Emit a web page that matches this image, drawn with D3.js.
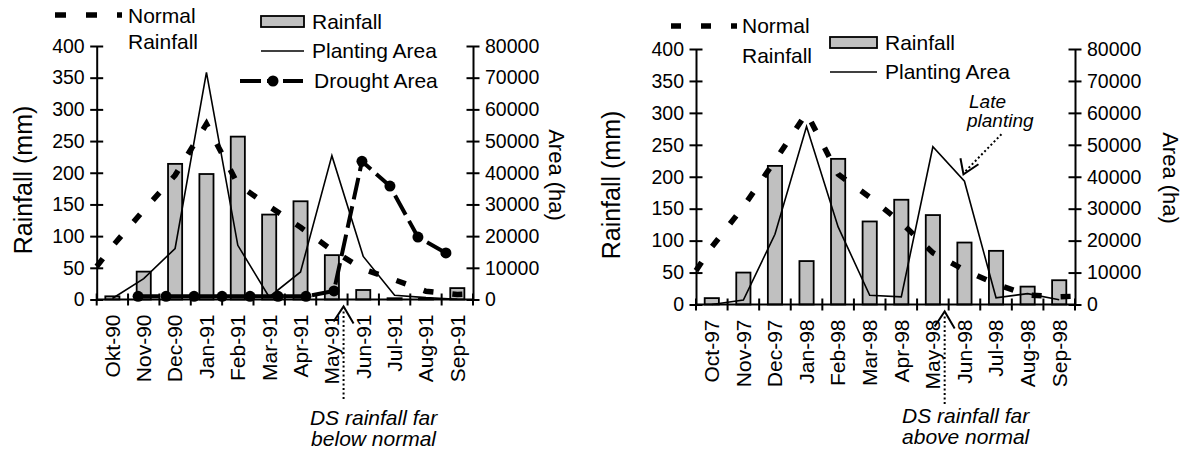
<!DOCTYPE html>
<html>
<head>
<meta charset="utf-8">
<script src="https://cdn.jsdelivr.net/npm/d3@7"></script>
<style>
  html, body { margin: 0; padding: 0; background: #fff; }
  svg text { font-family: "Liberation Sans", Arial, sans-serif; fill: #000; }
</style>
</head>
<body>
<svg id="chart" width="1192" height="450"></svg>
<script>
// ---------------- DATA ----------------
const months1 = ["Okt-90","Nov-90","Dec-90","Jan-91","Feb-91","Mar-91","Apr-91","May-91","Jun-91","Jul-91","Aug-91","Sep-91"];
const rain1 = [5, 44, 214, 198, 257, 134, 155, 70, 15, 2, 1, 18];
const normal1 = [84, 141, 196, 277, 182, 147, 114, 78, 48, 31, 13, 8];
const normalEdges1 = [52, 9];          // normal rainfall where the curve meets the two axes
const planting1 = [300, 6600, 16100, 71700, 17100, 800, 8700, 45400, 13600, 1350, 600, 100];
const drought1 = [1000, 1000, 1000, 1000, 1000, 1000, 1000, 2700, 43600, 35800, 19700, 14700];

const months2 = ["Oct-97","Nov-97","Dec-97","Jan-98","Feb-98","Mar-98","Apr-98","May-98","Jun-98","Jul-98","Aug-98","Sep-98"];
const rain2 = [10, 50, 217, 68, 228, 130, 164, 140, 97, 84, 28, 38];
const normal2 = [90, 153, 225, 300, 204, 168, 128, 81, 54, 32, 15, 12];
const normalEdges2 = [53, 13];
const planting2 = [0, 1400, 22000, 55700, 24300, 2900, 2400, 49400, 38600, 2100, 3400, 1500];

const rainTicks = [0, 50, 100, 150, 200, 250, 300, 350, 400];
const areaTicks = [0, 10000, 20000, 30000, 40000, 50000, 60000, 70000, 80000];

// ---------------- DRAWING ----------------
const svg = d3.select("#chart");
const FS = 21;
const TICKFS = 19.5;
const GRAY = "#c0c0c0";

function panel(cfg) {
  const g = svg.append("g");
  const { x0, x1, yTop, yBottom, months } = cfg;
  const w = x1 - x0;
  const x = d3.scaleBand().domain(months).range([x0, x1]).paddingInner(0.55).paddingOuter(0.275);
  const xi = d3.scaleLinear().domain([0, months.length]).range([x0, x1]);
  const xc = m => x(m) + x.bandwidth() / 2;
  const yR = d3.scaleLinear().domain([0, 400]).range([yBottom, yTop]);
  const yA = d3.scaleLinear().domain([0, 80000]).range([yBottom, yTop]);

  // bars
  g.append("g").selectAll("rect").data(cfg.rain).join("rect")
    .attr("x", (d, i) => x(months[i]))
    .attr("y", d => yR(d))
    .attr("width", x.bandwidth())
    .attr("height", d => yR(0) - yR(d))
    .attr("fill", GRAY).attr("stroke", "#000").attr("stroke-width", 1.8);

  // normal rainfall (thick dashed)
  const normPts = [[x0, cfg.normalEdges[0]]]
    .concat(cfg.normal.map((v, i) => [xc(months[i]), v]))
    .concat([[x1, cfg.normalEdges[1]]]);
  g.append("path").datum(normPts)
    .attr("d", d3.line().x(d => d[0]).y(d => yR(d[1])))
    .attr("fill", "none").attr("stroke", "#000").attr("stroke-width", 5.5)
    .attr("stroke-dasharray", "10,19").attr("stroke-linecap", "butt");

  // planting area
  g.append("path").datum(cfg.planting)
    .attr("d", d3.line().x((d, i) => xc(months[i])).y(d => yA(d)))
    .attr("fill", "none").attr("stroke", "#000").attr("stroke-width", 1.6);

  // drought area
  if (cfg.drought) {
    const xd = d3.scalePoint().domain(months).range([x0 + 0.11 * w, x0 + 0.928 * w]);
    g.append("path").datum(cfg.drought)
      .attr("d", d3.line().x((d, i) => xd(months[i])).y(d => yA(d)))
      .attr("fill", "none").attr("stroke", "#000").attr("stroke-width", 4)
      .attr("stroke-dasharray", "22,7");
    g.append("g").selectAll("circle").data(cfg.drought).join("circle")
      .attr("cx", (d, i) => xd(months[i])).attr("cy", d => yA(d)).attr("r", 5.5).attr("fill", "#000");
  }

  // left axis
  const axL = g.append("g").attr("transform", `translate(${x0},0)`)
    .call(d3.axisLeft(yR).tickValues(rainTicks).tickFormat(d3.format("d"))
      .tickSize(6).tickSizeOuter(0).tickPadding(6));
  // right axis
  const axR = g.append("g").attr("transform", `translate(${x1},0)`)
    .call(d3.axisRight(yA).tickValues(areaTicks).tickFormat(d3.format("d"))
      .tickSize(6).tickSizeOuter(0).tickPadding(6));
  [axL, axR].forEach(a => {
    a.select(".domain").attr("stroke-width", 2);
    a.selectAll(".tick line").attr("x1", -6.5).attr("x2", 6.5).attr("stroke-width", 2);
    a.selectAll("text").attr("font-size", TICKFS).attr("font-family", "Liberation Sans, Arial, sans-serif");
  });

  // bottom axis
  g.append("line").attr("x1", x0).attr("x2", x1).attr("y1", yBottom).attr("y2", yBottom)
    .attr("stroke", "#000").attr("stroke-width", 2);
  g.append("g").selectAll("line").data(d3.range(months.length + 1)).join("line")
    .attr("x1", d => xi(d)).attr("x2", d => xi(d))
    .attr("y1", yBottom - 6).attr("y2", yBottom + 6)
    .attr("stroke", "#000").attr("stroke-width", 2);
  g.append("g").selectAll("text").data(months).join("text")
    .attr("transform", m => `translate(${xc(m)},${yBottom + 15}) rotate(-90)`)
    .attr("text-anchor", "end").attr("dy", "0.35em").attr("font-size", FS)
    .text(m => m);

  // axis titles
  g.append("text")
    .attr("transform", `translate(${cfg.titleLx},${cfg.titleLy}) rotate(-90)`)
    .attr("text-anchor", "middle").attr("dy", "0.35em").attr("font-size", 25).text("Rainfall (mm)");
  g.append("text")
    .attr("transform", `translate(${cfg.titleRx},${cfg.titleRy}) rotate(90)`)
    .attr("text-anchor", "middle").attr("dy", "0.35em").attr("font-size", 22).text("Area (ha)");

  // DS annotation (dotted arrow under the axis)
  const xa = xi(8) - 4;
  g.append("line").attr("x1", xa).attr("x2", xa).attr("y1", yBottom + 12).attr("y2", yBottom + 100)
    .attr("stroke", "#000").attr("stroke-width", 2).attr("stroke-dasharray", "2,2.5");
  g.append("path")
    .attr("d", `M${xa - 10},${yBottom + 22}L${xa},${yBottom + 7}L${xa + 10},${yBottom + 24}`)
    .attr("fill", "none").attr("stroke", "#000").attr("stroke-width", 2);
  const ann = g.append("text").attr("font-size", FS).attr("font-style", "italic").attr("text-anchor", "middle");
  ann.append("tspan").attr("x", xa + cfg.annDx).attr("y", cfg.annY).text("DS rainfall far");
  ann.append("tspan").attr("x", xa + cfg.annDx).attr("y", cfg.annY + 21).text(cfg.annText);

  return { g, x, xc, yR, yA };
}

// ---------- left panel ----------
const P1 = panel({
  x0: 96.7, x1: 473, yTop: 46, yBottom: 299.5, months: months1,
  rain: rain1, normal: normal1, normalEdges: normalEdges1, planting: planting1, drought: drought1,
  titleLx: 23, titleLy: 180, titleRx: 557, titleRy: 175, annDx: 30, annY: 425, annText: "below normal"
});
// legend left
{
  const g = P1.g;
  g.append("line").attr("x1", 55).attr("x2", 122).attr("y1", 15).attr("y2", 15)
    .attr("stroke", "#000").attr("stroke-width", 5.5).attr("stroke-dasharray", "11,20");
  g.append("text").attr("x", 128).attr("y", 23).attr("font-size", FS).text("Normal");
  g.append("text").attr("x", 128).attr("y", 49).attr("font-size", FS).text("Rainfall");
  g.append("rect").attr("x", 261).attr("y", 16).attr("width", 43).attr("height", 11)
    .attr("fill", GRAY).attr("stroke", "#000").attr("stroke-width", 1.8);
  g.append("text").attr("x", 312).attr("y", 29).attr("font-size", FS).text("Rainfall");
  g.append("line").attr("x1", 261).attr("x2", 304).attr("y1", 51).attr("y2", 51)
    .attr("stroke", "#000").attr("stroke-width", 1.6);
  g.append("text").attr("x", 312).attr("y", 58).attr("font-size", FS).text("Planting Area");
  g.append("line").attr("x1", 240).attr("x2", 303).attr("y1", 81).attr("y2", 81)
    .attr("stroke", "#000").attr("stroke-width", 4).attr("stroke-dasharray", "21,6,10,6,20");
  g.append("circle").attr("cx", 273).attr("cy", 81).attr("r", 5.5).attr("fill", "#000");
  g.append("text").attr("x", 314).attr("y", 88).attr("font-size", FS).text("Drought Area");
}

// ---------- right panel ----------
const P2 = panel({
  x0: 696, x1: 1075, yTop: 49, yBottom: 304.5, months: months2,
  rain: rain2, normal: normal2, normalEdges: normalEdges2, planting: planting2, drought: null,
  titleLx: 611, titleLy: 185, titleRx: 1171, titleRy: 178, annDx: 21, annY: 423, annText: "above normal"
});
{
  const g = P2.g;
  g.append("line").attr("x1", 671).attr("x2", 737).attr("y1", 26).attr("y2", 26)
    .attr("stroke", "#000").attr("stroke-width", 5.5).attr("stroke-dasharray", "10,20");
  g.append("text").attr("x", 742).attr("y", 33).attr("font-size", FS).text("Normal");
  g.append("text").attr("x", 742).attr("y", 63).attr("font-size", FS).text("Rainfall");
  g.append("rect").attr("x", 830).attr("y", 37).attr("width", 47).attr("height", 11)
    .attr("fill", GRAY).attr("stroke", "#000").attr("stroke-width", 1.8);
  g.append("text").attr("x", 885).attr("y", 50).attr("font-size", FS).text("Rainfall");
  g.append("line").attr("x1", 830).attr("x2", 877).attr("y1", 72).attr("y2", 72)
    .attr("stroke", "#000").attr("stroke-width", 1.6);
  g.append("text").attr("x", 885).attr("y", 79).attr("font-size", FS).text("Planting Area");

  // Late planting annotation
  const jun = months2[8];
  const tx = P2.xc(jun) - 1, ty = P2.yA(planting2[8]) - 7;
  g.append("line").attr("x1", tx + 38).attr("y1", ty - 40).attr("x2", tx + 1).attr("y2", ty - 2)
    .attr("stroke", "#000").attr("stroke-width", 2).attr("stroke-dasharray", "2,2.5");
  g.append("path").attr("d", `M${tx - 3},${ty - 16}L${tx},${ty}L${tx + 15},${ty - 10}`)
    .attr("fill", "none").attr("stroke", "#000").attr("stroke-width", 2);
  const lp = g.append("text").attr("font-size", 19).attr("font-style", "italic");
  lp.append("tspan").attr("x", 969).attr("y", 108).text("Late");
  lp.append("tspan").attr("x", 967).attr("y", 127).text("planting");
}
</script>
</body>
</html>
